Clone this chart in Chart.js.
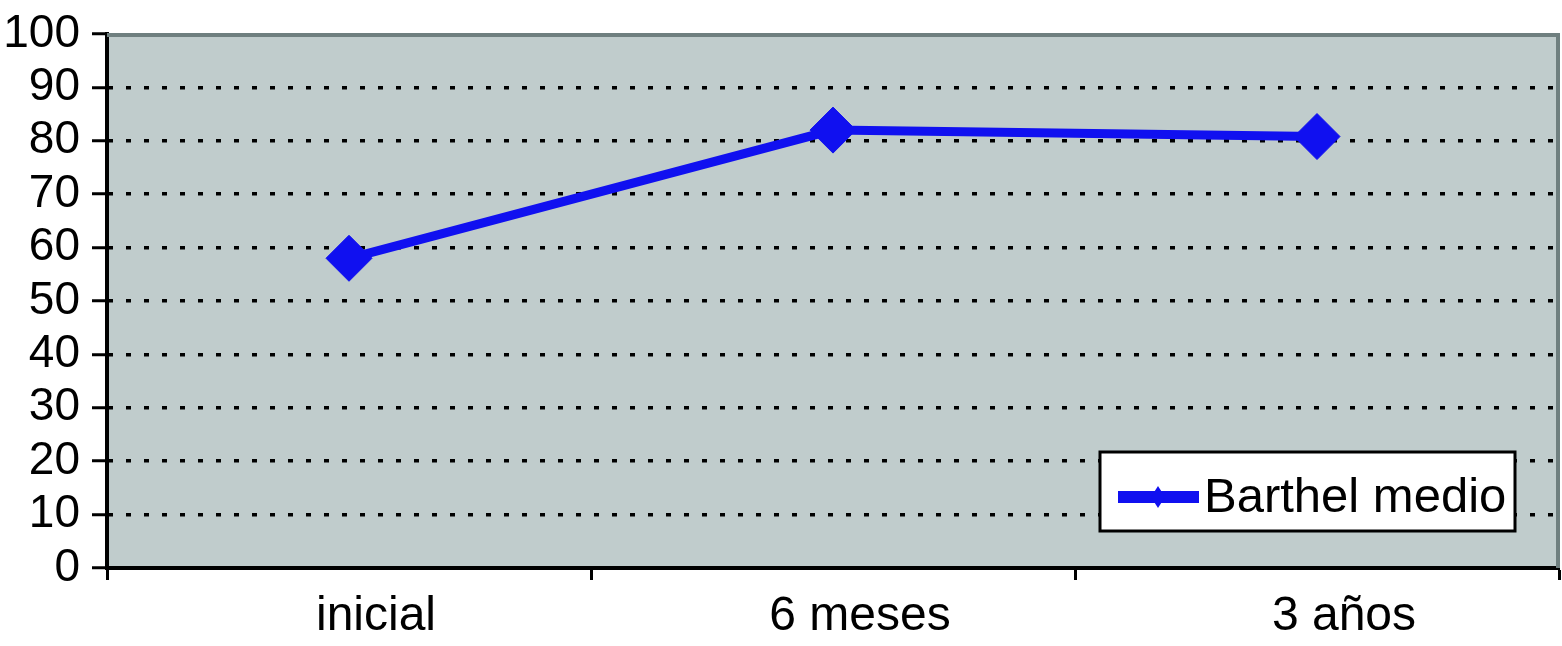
<!DOCTYPE html>
<html>
<head>
<meta charset="utf-8">
<script src="https://cdn.jsdelivr.net/npm/chart.js@4"></script>
<style>
  html, body { margin: 0; padding: 0; background: #fff; }
  #wrap { width: 1562px; height: 646px; }
</style>
</head>
<body>
<div id="wrap"><canvas id="chart" width="1562" height="646"></canvas></div>
<script>
const categories = ["inicial", "6 meses", "3 años"];
const barthelMedio = [58, 82, 80.8];
const seriesLabel = "Barthel medio";
const yTicks = [0, 10, 20, 30, 40, 50, 60, 70, 80, 90, 100];

const FONT = '"Liberation Sans", Arial, sans-serif';
const BLUE = "#1010f0";

// plot background + grey frame on top/right, and the boxed legend inside the plot
const plotDecor = {
  id: "plotDecor",
  beforeDraw(chart) {
    const { ctx, chartArea: a } = chart;
    ctx.save();
    ctx.fillStyle = "#c0cccc";
    ctx.fillRect(a.left, a.top, a.right - a.left, a.bottom - a.top);
    ctx.restore();
  },
  beforeDatasetsDraw(chart) {
    const { ctx, chartArea: a } = chart;
    ctx.save();
    ctx.strokeStyle = "#6f7f7f";
    ctx.lineWidth = 4;
    ctx.beginPath();
    ctx.moveTo(a.left, a.top + 1);
    ctx.lineTo(a.right - 1, a.top + 1);
    ctx.lineTo(a.right - 1, a.bottom);
    ctx.stroke();
    ctx.restore();
  },
  afterDraw(chart) {
    const { ctx, chartArea: a } = chart;
    const x = a.right - 459, y = a.bottom - 116, w = 415, h = 79;
    ctx.save();
    ctx.fillStyle = "#fff";
    ctx.fillRect(x, y, w, h);
    ctx.strokeStyle = "#000";
    ctx.lineWidth = 3;
    ctx.strokeRect(x, y, w, h);
    const cy = y + 45;
    ctx.strokeStyle = BLUE;
    ctx.lineWidth = 12;
    ctx.beginPath();
    ctx.moveTo(x + 18, cy);
    ctx.lineTo(x + 99, cy);
    ctx.stroke();
    ctx.fillStyle = BLUE;
    ctx.beginPath();
    ctx.moveTo(x + 51, cy);
    ctx.lineTo(x + 58, cy - 11);
    ctx.lineTo(x + 65, cy);
    ctx.lineTo(x + 58, cy + 11);
    ctx.closePath();
    ctx.fill();
    ctx.fillStyle = "#000";
    ctx.font = "49px " + FONT;
    ctx.textBaseline = "alphabetic";
    ctx.textAlign = "left";
    ctx.fillText(chart.data.datasets[0].label, x + 104, y + 60);
    ctx.restore();
  }
};

new Chart(document.getElementById("chart").getContext("2d"), {
  type: "line",
  data: {
    labels: categories,
    datasets: [
      {
        label: seriesLabel,
        data: barthelMedio,
        borderColor: BLUE,
        backgroundColor: BLUE,
        borderWidth: 9,
        tension: 0,
        pointStyle: "rectRot",
        pointRadius: 23,
        pointBorderWidth: 1,
        pointBackgroundColor: BLUE,
        pointBorderColor: BLUE,
      },
    ],
  },
  options: {
    responsive: false,
    animation: false,
    layout: { autoPadding: false, padding: { top: 34, right: 3, left: 0, bottom: 0 } },
    plugins: {
      legend: { display: false },
      tooltip: { enabled: false },
    },
    scales: {
      x: {
        type: "category",
        offset: true,
        grid: {
          offset: true,
          drawOnChartArea: false,
          drawTicks: true,
          tickLength: 12,
          tickColor: "#000",
          tickWidth: 3,
        },
        border: { display: true, color: "#000", width: 4 },
        ticks: {
          color: "#000",
          padding: 8,
          labelOffset: 27,
          maxRotation: 0,
          autoSkip: false,
          font: { family: FONT, size: 48 },
        },
        afterFit(scale) {
          scale.height = 78;
          scale.paddingLeft = 0;
          scale.paddingRight = 0;
        },
      },
      y: {
        min: 0,
        max: 100,
        afterBuildTicks(scale) { scale.ticks = yTicks.map(v => ({ value: v })); },
        grid: {
          color: (c) => (c.tick && c.tick.value > 0 && c.tick.value < 100 ? "#000" : "rgba(0,0,0,0)"),
          lineWidth: 3.5,
          drawTicks: true,
          tickLength: 15,
          tickColor: "#000",
          tickWidth: 3,
        },
        border: { display: true, color: "#000", width: 4, dash: [5, 13], dashOffset: 1 },
        ticks: {
          color: "#000",
          padding: 12,
          autoSkip: false,
          font: { family: FONT, size: 46 },
        },
        afterFit(scale) {
          scale.width = 107;
          scale.paddingTop = 0;
          scale.paddingBottom = 0;
        },
      },
    },
  },
  plugins: [plotDecor],
});
</script>
</body>
</html>
